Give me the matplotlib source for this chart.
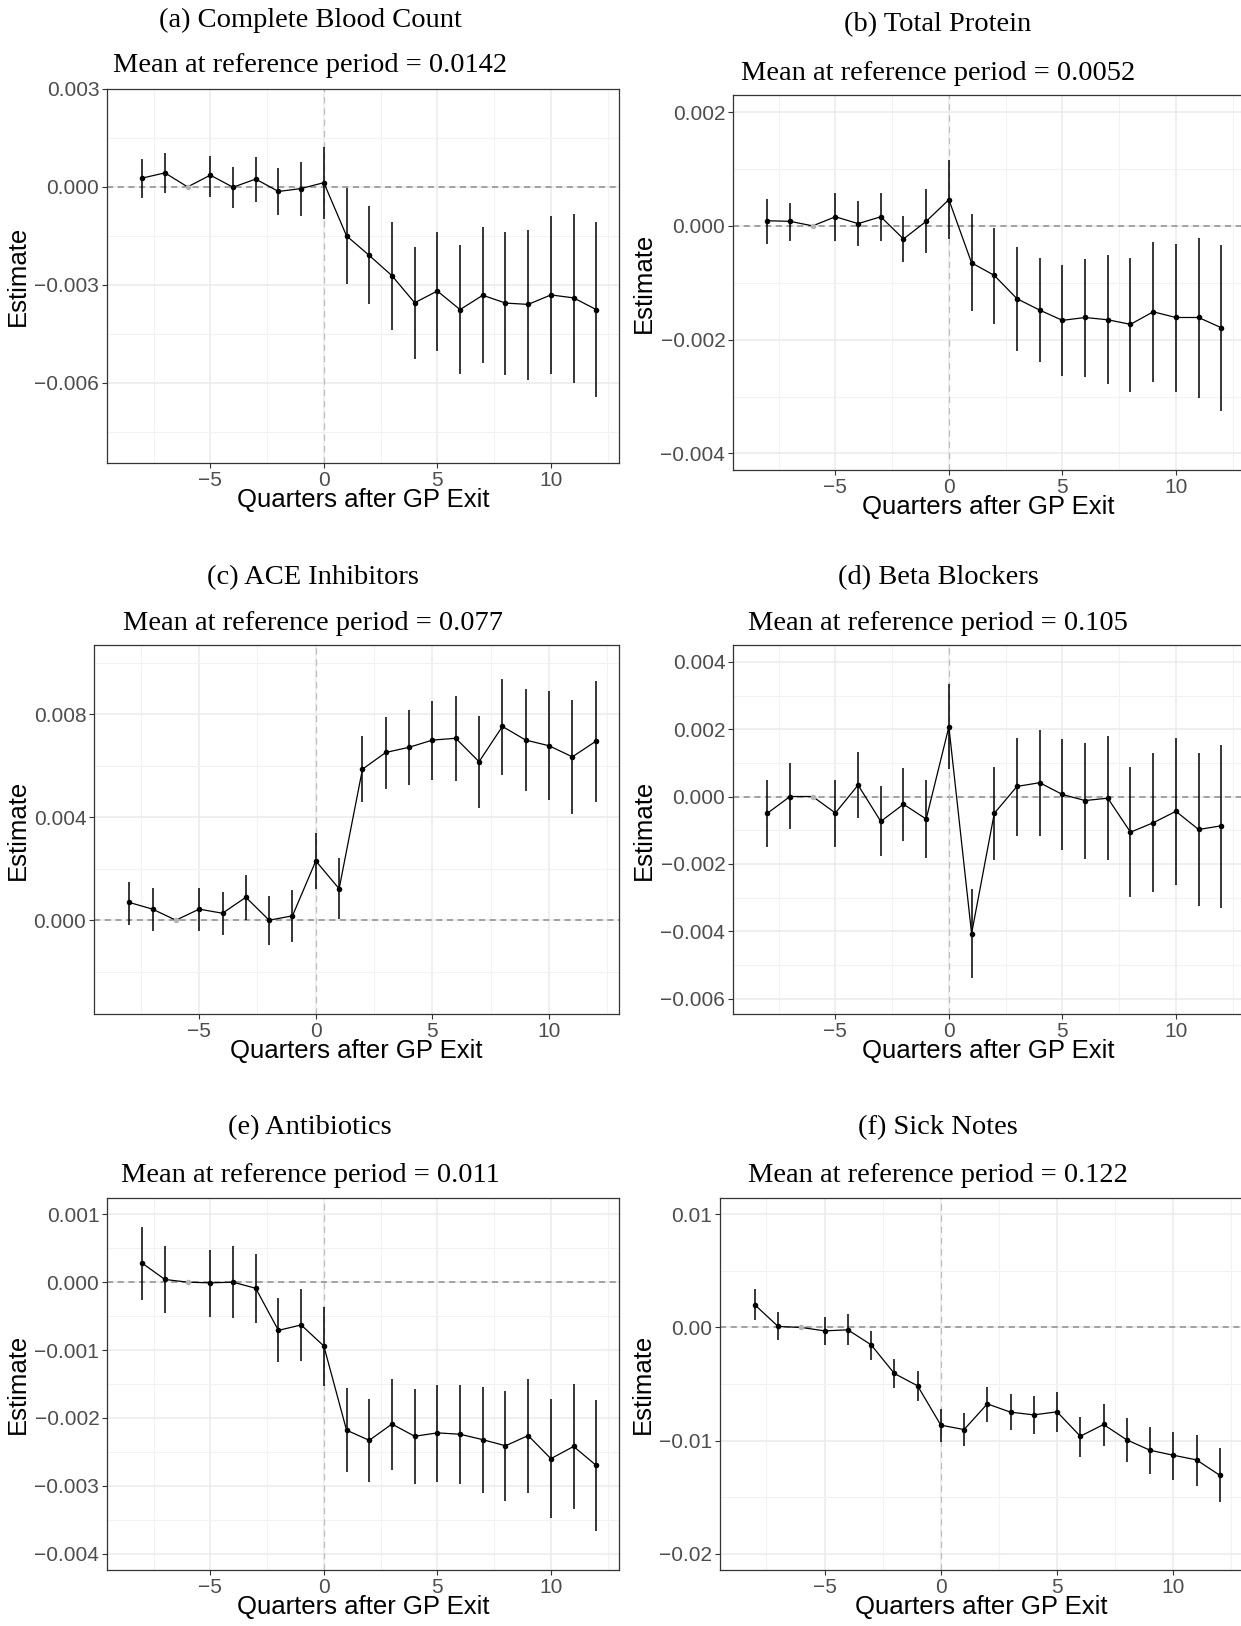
import matplotlib
matplotlib.use("Agg")
import matplotlib.pyplot as plt
import numpy as np

# ---------------- data ----------------
quarters = list(range(-8, 13))
reference_quarter = -6

titles = ["(a) Complete Blood Count", "(b) Total Protein", "(c) ACE Inhibitors",
          "(d) Beta Blockers", "(e) Antibiotics", "(f) Sick Notes"]
ref_means = ["0.0142", "0.0052", "0.077", "0.105", "0.011", "0.122"]

cbc_est = [0.00027, 0.00043, 0.0, 0.00036, -0.00001, 0.00024, -0.00014, -0.00005, 0.00013,
           -0.00150, -0.00210, -0.00272, -0.00355, -0.00319, -0.00376, -0.00332, -0.00356,
           -0.00360, -0.00331, -0.00340, -0.00376]
cbc_hi = [0.00086, 0.00103, 0.0, 0.00096, 0.00060, 0.00093, 0.00057, 0.00077, 0.00123,
          -0.00004, -0.00060, -0.00108, -0.00184, -0.00138, -0.00178, -0.00124, -0.00138,
          -0.00131, -0.00089, -0.00084, -0.00107]
cbc_lo = [-0.00034, -0.00019, 0.0, -0.00030, -0.00064, -0.00047, -0.00086, -0.00088, -0.00097,
          -0.00298, -0.00359, -0.00439, -0.00527, -0.00503, -0.00573, -0.00541, -0.00576,
          -0.00592, -0.00574, -0.00600, -0.00643]

tp_est = [0.00009, 0.00008, 0.0, 0.00016, 0.00004, 0.00016, -0.00023, 0.00008, 0.00046,
          -0.00065, -0.00087, -0.00128, -0.00148, -0.00166, -0.00161, -0.00165, -0.00173,
          -0.00151, -0.00161, -0.00161, -0.00179]
tp_hi = [0.00047, 0.00040, 0.0, 0.00057, 0.00043, 0.00058, 0.00018, 0.00064, 0.00116,
         0.00021, -0.00004, -0.00037, -0.00056, -0.00069, -0.00058, -0.00052, -0.00056,
         -0.00029, -0.00031, -0.00021, -0.00033]
tp_lo = [-0.00031, -0.00026, 0.0, -0.00026, -0.00036, -0.00027, -0.00064, -0.00047, -0.00023,
         -0.00150, -0.00172, -0.00220, -0.00240, -0.00263, -0.00265, -0.00277, -0.00292,
         -0.00274, -0.00292, -0.00302, -0.00326]

ace_est = [0.00069, 0.00043, 0.0, 0.00043, 0.00027, 0.00089, 0.0, 0.00017, 0.00230,
           0.00122, 0.00586, 0.00651, 0.00671, 0.00699, 0.00706, 0.00615, 0.00752,
           0.00699, 0.00677, 0.00634, 0.00694]
ace_hi = [0.00150, 0.00126, 0.0, 0.00124, 0.00110, 0.00177, 0.00093, 0.00118, 0.00338,
          0.00240, 0.00713, 0.00788, 0.00817, 0.00852, 0.00872, 0.00791, 0.00937,
          0.00897, 0.00888, 0.00854, 0.00928]
ace_lo = [-0.00017, -0.00041, 0.0, -0.00041, -0.00057, 0.00000, -0.00096, -0.00084, 0.00120,
          0.00004, 0.00458, 0.00511, 0.00523, 0.00545, 0.00539, 0.00436, 0.00563,
          0.00500, 0.00467, 0.00412, 0.00460]

bb_est = [-0.00050, 0.0, 0.0, -0.00049, 0.00034, -0.00074, -0.00023, -0.00067, 0.00207,
          -0.00407, -0.00050, 0.00030, 0.00041, 0.00006, -0.00012, -0.00005, -0.00106,
          -0.00078, -0.00044, -0.00098, -0.00087]
bb_hi = [0.00049, 0.00100, 0.0, 0.00050, 0.00133, 0.00031, 0.00084, 0.00050, 0.00333,
         -0.00275, 0.00088, 0.00173, 0.00197, 0.00171, 0.00160, 0.00179, 0.00087,
         0.00128, 0.00174, 0.00130, 0.00154]
bb_lo = [-0.00149, -0.00097, 0.0, -0.00149, -0.00065, -0.00177, -0.00132, -0.00183, 0.00081,
         -0.00538, -0.00188, -0.00116, -0.00116, -0.00159, -0.00186, -0.00189, -0.00299,
         -0.00284, -0.00262, -0.00326, -0.00330]

abx_est = [0.00028, 0.00004, 0.0, -0.00001, 0.0, -0.00009, -0.00071, -0.00063, -0.00094,
           -0.00218, -0.00233, -0.00209, -0.00227, -0.00222, -0.00224, -0.00232, -0.00241,
           -0.00226, -0.00260, -0.00242, -0.00270]
abx_hi = [0.00081, 0.00053, 0.0, 0.00048, 0.00054, 0.00041, -0.00023, -0.00010, -0.00037,
          -0.00156, -0.00172, -0.00143, -0.00157, -0.00152, -0.00152, -0.00154, -0.00161,
          -0.00142, -0.00172, -0.00150, -0.00174]
abx_lo = [-0.00026, -0.00046, 0.0, -0.00052, -0.00053, -0.00060, -0.00118, -0.00116, -0.00153,
          -0.00279, -0.00295, -0.00276, -0.00297, -0.00294, -0.00298, -0.00311, -0.00322,
          -0.00311, -0.00348, -0.00334, -0.00367]

sick_est = [0.00200, 0.00009, 0.0, -0.00030, -0.00021, -0.00153, -0.00407, -0.00516, -0.00864,
            -0.00903, -0.00676, -0.00749, -0.00773, -0.00746, -0.00962, -0.00858, -0.00994,
            -0.01086, -0.01130, -0.01171, -0.01307]
sick_hi = [0.00336, 0.00139, 0.0, 0.00094, 0.00115, -0.00027, -0.00277, -0.00381, -0.00720,
           -0.00755, -0.00528, -0.00590, -0.00605, -0.00572, -0.00791, -0.00673, -0.00800,
           -0.00882, -0.00923, -0.00950, -0.01068]
sick_lo = [0.00068, -0.00115, 0.0, -0.00159, -0.00153, -0.00292, -0.00534, -0.00652, -0.01009,
           -0.01047, -0.00832, -0.00909, -0.00944, -0.00923, -0.01142, -0.01047, -0.01192,
           -0.01295, -0.01345, -0.01398, -0.01546]

x_ticks = [-5, 0, 5, 10]
y_ticks = [[0.003, 0.0, -0.003, -0.006],
           [0.002, 0.0, -0.002, -0.004],
           [0.0, 0.004, 0.008],
           [0.004, 0.002, 0.0, -0.002, -0.004, -0.006],
           [0.001, 0.0, -0.001, -0.002, -0.003, -0.004],
           [0.01, 0.0, -0.01, -0.02]]
y_tick_labels = [["0.003", "0.000", "\u22120.003", "\u22120.006"],
                 ["0.002", "0.000", "\u22120.002", "\u22120.004"],
                 ["0.000", "0.004", "0.008"],
                 ["0.004", "0.002", "0.000", "\u22120.002", "\u22120.004", "\u22120.006"],
                 ["0.001", "0.000", "\u22120.001", "\u22120.002", "\u22120.003", "\u22120.004"],
                 ["0.01", "0.00", "\u22120.01", "\u22120.02"]]
y_minor = [[0.0015, -0.0015, -0.0045, -0.0075],
           [0.001, -0.001, -0.003],
           [-0.002, 0.002, 0.006, 0.010],
           [0.003, 0.001, -0.001, -0.003, -0.005],
           [0.0005, -0.0005, -0.0015, -0.0025, -0.0035],
           [0.005, -0.005, -0.015]]
y_limits = [(-0.00846, 0.0030), (-0.00429, 0.0023), (-0.00364, 0.01068),
            (-0.00646, 0.0045), (-0.00424, 0.00124), (-0.02145, 0.01145)]
x_limits = [(-9.55, 13.0), (-9.51, 13.0), (-9.51, 13.0),
            (-9.51, 13.0), (-9.55, 13.0), (-9.50, 13.0)]

estimates = [cbc_est, tp_est, ace_est, bb_est, abx_est, sick_est]
highs = [cbc_hi, tp_hi, ace_hi, bb_hi, abx_hi, sick_hi]
lows = [cbc_lo, tp_lo, ace_lo, bb_lo, abx_lo, sick_lo]

# ---------------- layout (pixels) ----------------
W, H = 1241, 1626
# left, top, right, bottom in pixels
boxes = [(107, 89, 619, 463), (733, 95, 1244, 470),
         (94, 645, 619, 1014), (733, 645, 1244, 1014),
         (107, 1198, 619, 1570), (720, 1198, 1243, 1570)]
title_x = [310, 938, 313, 938, 310, 938]
title_y = [20, 25, 578, 578, 1128, 1128]
sub_y = [65, 73, 623, 623, 1175, 1175]

fig = plt.figure(figsize=(W / 100, H / 100), dpi=100)
fig.patch.set_facecolor("white")

serif = ["Liberation Serif", "DejaVu Serif"]
sans = ["Liberation Sans", "DejaVu Sans"]

for i in range(6):
    l, t, r, b = boxes[i]
    ax = fig.add_axes([l / W, 1 - b / H, (r - l) / W, (b - t) / H])
    ax.set_xlim(*x_limits[i])
    ax.set_ylim(*y_limits[i])

    # grid
    ax.set_xticks(x_ticks)
    ax.set_xticks([-7.5, -2.5, 2.5, 7.5, 12.5], minor=True)
    ax.set_yticks(y_ticks[i])
    ax.set_yticklabels(y_tick_labels[i])
    ax.set_yticks(y_minor[i], minor=True)
    ax.grid(True, which="major", color="#EBEBEB", lw=1.1, zorder=0)
    ax.grid(True, which="minor", color="#F2F2F2", lw=0.8, zorder=0)
    ax.set_axisbelow(True)

    ax.tick_params(which="major", length=3.5, width=0.8, color="#333333",
                   labelsize=15, labelcolor="#4D4D4D", pad=2)
    ax.tick_params(which="minor", length=0)
    for lab in ax.get_xticklabels() + ax.get_yticklabels():
        lab.set_family(sans)
    for sp in ax.spines.values():
        sp.set_color("#333333")
        sp.set_linewidth(0.9)

    # reference lines
    ax.axhline(0, color="#8C8C8C", lw=1.1, ls=(0, (4, 3)), zorder=1)
    ax.axvline(0, color="#BEBEBE", lw=0.9, ls=(0, (5, 4)), zorder=1)

    est = np.array(estimates[i])
    hi = np.array(highs[i])
    lo = np.array(lows[i])
    q = np.array(quarters)

    ax.vlines(q, lo, hi, color="black", lw=1.1, zorder=2)
    ax.plot(q, est, color="black", lw=0.9, zorder=3)
    is_ref = q == reference_quarter
    ax.scatter(q[~is_ref], est[~is_ref], s=16, color="black", zorder=4, linewidths=0)
    ax.scatter(q[is_ref], est[is_ref], s=16, color="#B3B3B3", zorder=4, linewidths=0)

    ax.set_xlabel("Quarters after GP Exit", fontsize=18.5, family=sans, labelpad=-1)
    ax.set_ylabel("Estimate", fontsize=18.5, family=sans, labelpad=3)

    fig.text(title_x[i] / W, 1 - title_y[i] / H, titles[i], ha="center", va="center",
             fontsize=20.5, family=serif)
    fig.text(title_x[i] / W, 1 - sub_y[i] / H, "Mean at reference period = " + ref_means[i],
             ha="center", va="center", fontsize=20.5, family=serif)

fig.savefig("out.png", dpi=100)
